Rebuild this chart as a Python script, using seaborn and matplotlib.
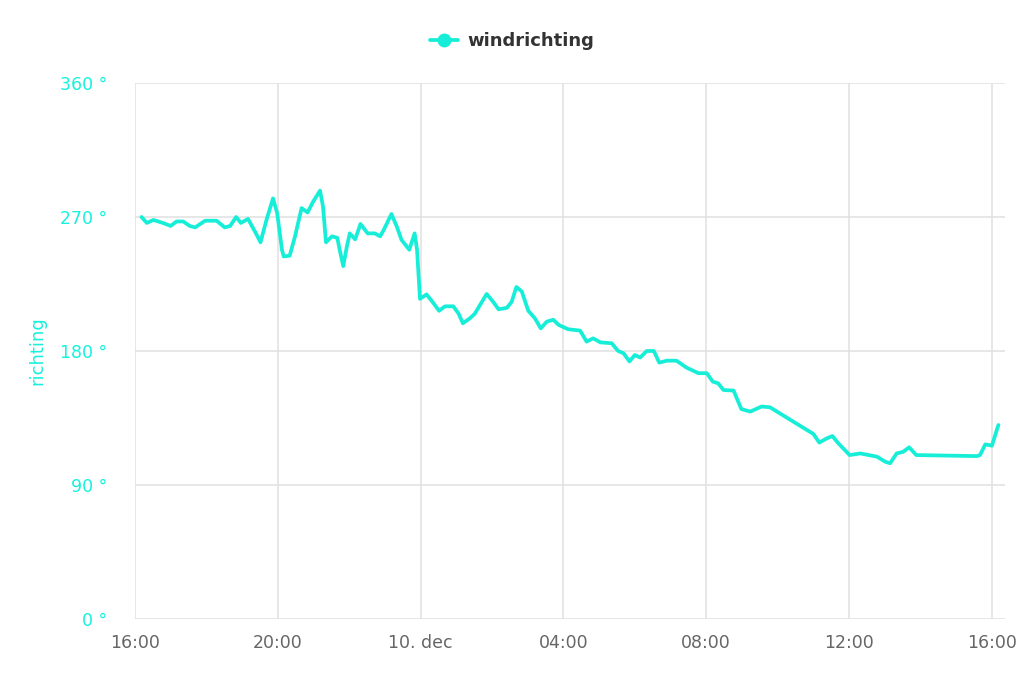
import matplotlib
matplotlib.use("Agg")
import matplotlib.pyplot as plt
import matplotlib.dates as mdates
from matplotlib.lines import Line2D
import pandas as pd
import seaborn as sns

# ---------------------------------------------------
# Data: minutes after 9 Dec 16:00, wind direction in degrees
# ---------------------------------------------------

start = pd.Timestamp("2023-12-09 16:00")

minutes = [
    11, 20, 31, 47, 60, 70, 81, 92, 101, 118, 137, 151, 160, 170, 178,
    190, 202, 211, 221, 232, 239, 247, 250, 260, 269, 280, 290, 299, 311,
    316, 321, 331, 340, 344, 350, 356, 361, 370, 379, 391, 403, 412, 418,
    431, 440, 448, 461, 470, 474, 479,
    490, 500, 511, 521, 535, 544, 551, 563, 571, 591, 602, 611, 625, 633,
    641, 650, 661, 672, 682, 692, 703, 712, 728, 748, 759, 770, 782, 801,
    812, 821, 831, 840, 849, 860, 872, 881, 894, 910, 927, 947, 961,
    971, 980, 989, 1006, 1019, 1034, 1053, 1067, 1140, 1150, 1163, 1172,
    1182, 1201, 1219, 1247, 1261, 1269, 1280, 1291, 1301, 1313, 1415,
    1420, 1429, 1440, 1451,
]

direction = [
    270, 266, 268, 266, 264, 267, 267, 264, 263, 267.5, 267.5, 263, 264,
    270, 266, 268.7, 260, 253, 268, 282.5, 272.5, 248, 243.5, 244, 257,
    276, 273, 280, 287.7, 277, 253, 257, 256, 248, 237, 250, 259, 255,
    265.3, 259, 259, 257, 261.3, 272, 263.6, 254.6, 248, 259, 248, 215,
    218, 213, 207, 210, 210, 205, 198.6, 202, 205, 218.3, 213, 208, 209,
    213, 223, 220, 207, 202, 195.2, 199.7, 201, 197.5, 194.6, 193.7, 186.3,
    188.5, 185.8, 185.2, 180, 178.5, 173, 177.3, 175.6, 180, 180, 172.2,
    173.5, 173.5, 168.8, 165.1, 165.1,
    159.4, 158.3, 153.8, 153.4, 141, 139.3, 142.7, 142.2, 124.3, 118.5,
    121.4, 122.9, 118, 110.1, 111.2, 109, 105.6, 104.6, 111.2, 112.3,
    115.3, 110.1, 109.4, 110.1, 117.3, 116.4, 130.3,
]

ytick_values = [0, 90, 180, 270, 360]
ytick_labels = ["0 °", "90 °", "180 °", "270 °", "360 °"]

xtick_hours = [0, 4, 8, 12, 16, 20, 24]
xtick_labels = ["16:00", "20:00", "10. dec", "04:00", "08:00", "12:00", "16:00"]

series_name = "windrichting"
axis_title = "richting"

line_color = "#17eed8"
label_color = "#16f2dc"
grid_color = "#e0e0e0"

df = pd.DataFrame({
    "time": start + pd.to_timedelta(minutes, unit="min"),
    "richting": direction,
})

# ---------------------------------------------------
# Plot
# ---------------------------------------------------

sns.set_style("white")
plt.rcParams["font.family"] = ["DejaVu Sans"]

fig = plt.figure(figsize=(10.24, 6.83), dpi=100)
ax = fig.add_axes([0.1318, 0.0937, 0.8496, 0.7848])

sns.lineplot(
    data=df,
    x="time",
    y="richting",
    color=line_color,
    linewidth=2.7,
    solid_joinstyle="round",
    solid_capstyle="round",
    ax=ax
)

ax.set_xlim(start, start + pd.Timedelta(minutes=24 * 60 + 22))
ax.set_ylim(0, 360)

ax.set_yticks(ytick_values)
ax.set_yticklabels(ytick_labels)

ax.set_xticks([mdates.date2num(start + pd.Timedelta(hours=h)) for h in xtick_hours])
ax.set_xticklabels(xtick_labels)

ax.grid(True, color=grid_color, linewidth=1.1)
ax.set_axisbelow(True)

for side in ["top", "right", "left", "bottom"]:
    ax.spines[side].set_visible(False)

ax.tick_params(axis="x", colors=grid_color, length=7, width=1.1,
               labelcolor="#666666", labelsize=12.5, pad=4)
ax.tick_params(axis="y", length=0, labelcolor=label_color,
               labelsize=12.5, pad=20)

ax.set_xlabel("")
ax.set_ylabel(axis_title, color=label_color, fontsize=13, labelpad=10)

handle = Line2D([0], [0], color=line_color, linewidth=2.7,
                marker="o", markersize=9)
fig.legend(
    [handle],
    [series_name],
    loc="center",
    bbox_to_anchor=(0.5, 0.94),
    frameon=False,
    handlelength=1.6,
    handletextpad=0.5,
    prop={"weight": "bold", "size": 13},
    labelcolor="#333333"
)

plt.savefig("out.png", dpi=100)

plt.close()
